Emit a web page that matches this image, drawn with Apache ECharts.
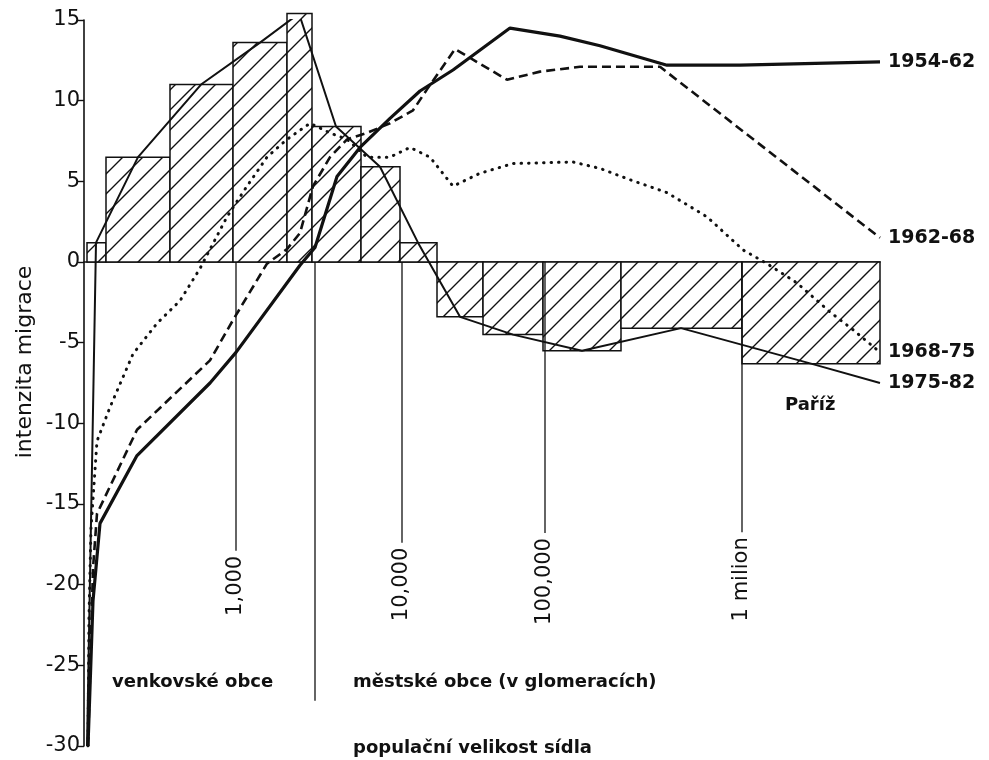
<!DOCTYPE html>
<html>
<head>
<meta charset="utf-8">
<script src="https://cdn.jsdelivr.net/npm/echarts@6/dist/echarts.min.js"></script>
<style>
html,body{margin:0;padding:0;background:#fff;}
#chart{width:989px;height:760px;}
</style>
</head>
<body>
<div id="chart"></div>
<script>
// osa x: poloha podle velikosti sidla (libovolne jednotky, 0 = osa y)
var barEdges = [3, 22, 86, 149, 203, 228, 277, 316, 353, 399, 459, 537, 658, 796];
var barValues = [1.2, 6.5, 11.0, 13.6, 15.4, 8.4, 5.9, 1.2, -3.4, -4.5, -5.5, -4.1, -6.3];

var seriesNames = ['1954-62', '1962-68', '1968-75', '1975-82'];

var s1954 = [[4,-30],[9,-21],[16,-16.2],[53,-12],[126,-7.5],[152,-5.6],[216,-0.2],[231,0.9],
    [253,5.3],[276,7.1],[306,8.9],[336,10.6],[369,11.9],[426,14.5],[476,14.0],[516,13.4],
    [583,12.2],[656,12.2],[796,12.4]];
var s1962 = [[4,-30],[9,-19],[13,-15.6],[53,-10.4],[126,-6.1],[149,-3.6],[183,-0.1],[203,0.8],
    [216,1.8],[229,4.7],[246,6.5],[263,7.6],[283,8.0],[306,8.6],[329,9.4],[343,10.7],[371,13.2],
    [423,11.3],[456,11.8],[496,12.1],[576,12.1],[796,1.5]];
var s1968 = [[4,-30],[5,-22],[7,-16.5],[13,-11.1],[26,-9.0],[49,-5.7],[73,-3.8],[96,-2.4],
    [116,-0.4],[143,2.8],[163,4.7],[183,6.5],[203,7.6],[226,8.6],[246,8.0],[263,7.6],[283,6.5],
    [306,6.5],[326,7.1],[346,6.5],[369,4.7],[396,5.5],[429,6.1],[489,6.2],[516,5.8],[546,5.1],
    [583,4.3],[623,2.8],[659,0.75],[683,-0.1],[713,-1.3],[746,-3.1],[769,-4.2],[796,-5.6]];
var s1975 = [[3,-30],[12,1.2],[54,6.5],[117,11.0],[176,13.6],[215,15.4],[252,8.4],[296,5.9],
    [334,1.2],[376,-3.4],[429,-4.5],[498,-5.5],[597,-4.1],[727,-6.3],[796,-7.5]];

// znacky velikosti na ose x
var tickPos = [152, 318, 461, 658];
var tickEnds = [-17.9, -17.4, -16.8, -16.75];
var tickLabels = ['1,000', '10,000', '100,000', '1 milion'];
// hranice venkovske / mestske obce
var dividerPos = 231;
var dividerEnd = -27.2;

var FONT = '"DejaVu Sans", sans-serif';
var INK = '#111';

//srafovani sloupcu
function hatch(){
    var c = document.createElement('canvas');
    c.width = 20; c.height = 20;
    var g = c.getContext('2d');
    g.fillStyle = '#fff';
    g.fillRect(0, 0, 20, 20);
    g.strokeStyle = INK;
    g.lineWidth = 1.4;
    g.beginPath();
    g.moveTo(-2, 22); g.lineTo(22, -2);
    g.moveTo(-2, 2); g.lineTo(2, -2);
    g.moveTo(18, 22); g.lineTo(22, 18);
    g.stroke();
    return c;
}
var hatchImg = hatch();

var bars = [];
for (var i = 0; i < barValues.length; i++) {
    bars.push([barEdges[i], barEdges[i + 1], barValues[i]]);
}
var ticks = [];
for (var j = 0; j < tickPos.length; j++) {
    ticks.push([tickPos[j], tickEnds[j], tickLabels[j]]);
}
ticks.push([dividerPos, dividerEnd, '']);

var chart = echarts.init(document.getElementById('chart'));

function lineSeries(name, data, style, z){
    return {
        name: name,
        type: 'line',
        data: data,
        symbol: 'none',
        z: z,
        lineStyle: style,
        endLabel: {
            show: true,
            formatter: '{a}',
            distance: 8,
            color: INK,
            fontFamily: FONT,
            fontWeight: 'bold',
            fontSize: 19
        }
    };
}

var option = {
    animation: false,
    backgroundColor: '#fff',
    grid: { left: 84, right: 109, top: 20, bottom: 14 },
    xAxis: {
        type: 'value',
        min: 0,
        max: 796,
        axisLine: { show: true, onZero: true, lineStyle: { color: INK, width: 1.6 } },
        axisTick: { show: false },
        axisLabel: { show: false },
        splitLine: { show: false }
    },
    yAxis: {
        type: 'value',
        min: -30,
        max: 15,
        interval: 5,
        axisLine: { show: true, lineStyle: { color: INK, width: 1.6 } },
        axisTick: { show: true, length: 6, lineStyle: { color: INK, width: 1.4 } },
        axisLabel: { color: INK, fontFamily: FONT, fontSize: 21, margin: 4 },
        splitLine: { show: false }
    },
    graphic: [
        { type: 'text', x: 25, y: 362, rotation: Math.PI / 2,
          style: { text: 'intenzita migrace', font: '22px ' + FONT, fill: INK, align: 'center', verticalAlign: 'middle' } },
        { type: 'text', x: 112, y: 682,
          style: { text: 'venkovské obce', font: 'bold 18px ' + FONT, fill: INK, verticalAlign: 'middle' } },
        { type: 'text', x: 353, y: 682,
          style: { text: 'městské obce (v glomeracích)', font: 'bold 18px ' + FONT, fill: INK, verticalAlign: 'middle' } },
        { type: 'text', x: 353, y: 748,
          style: { text: 'populační velikost sídla', font: 'bold 18px ' + FONT, fill: INK, verticalAlign: 'middle' } },
        { type: 'text', x: 785, y: 405,
          style: { text: 'Paříž', font: 'bold 18px ' + FONT, fill: INK, verticalAlign: 'middle' } }
    ],
    series: [
        {
            type: 'custom',
            name: 'sloupce',
            data: bars,
            z: 1,
            encode: { x: [0, 1], y: 2 },
            renderItem: function(params, api){
                var p0 = api.coord([api.value(0), 0]);
                var p1 = api.coord([api.value(1), api.value(2)]);
                return {
                    type: 'rect',
                    shape: {
                        x: p0[0],
                        y: Math.min(p0[1], p1[1]),
                        width: p1[0] - p0[0],
                        height: Math.abs(p1[1] - p0[1])
                    },
                    style: { fill: { image: hatchImg, repeat: 'repeat' }, stroke: INK, lineWidth: 1.5 }
                };
            }
        },
        {
            type: 'custom',
            name: 'znacky',
            data: ticks,
            z: 2,
            encode: { x: 0, y: 1 },
            renderItem: function(params, api){
                var top = api.coord([api.value(0), 0]);
                var bot = api.coord([api.value(0), api.value(1)]);
                return {
                    type: 'group',
                    children: [
                        { type: 'line', shape: { x1: top[0], y1: top[1], x2: bot[0], y2: bot[1] },
                          style: { stroke: INK, lineWidth: 1.3 } },
                        { type: 'text', x: bot[0], y: bot[1] + 5, rotation: Math.PI / 2,
                          style: { text: api.value(2), font: '21px ' + FONT, fill: INK, align: 'right', verticalAlign: 'middle' } }
                    ]
                };
            }
        },
        lineSeries(seriesNames[0], s1954, { color: INK, width: 3.2 }, 5),
        lineSeries(seriesNames[1], s1962, { color: INK, width: 2.6, type: [9, 5] }, 5),
        lineSeries(seriesNames[2], s1968, { color: INK, width: 3, type: [0.5, 7], cap: 'round' }, 5),
        lineSeries(seriesNames[3], s1975, { color: INK, width: 2 }, 5)
    ]
};

chart.setOption(option);
</script>
</body>
</html>
